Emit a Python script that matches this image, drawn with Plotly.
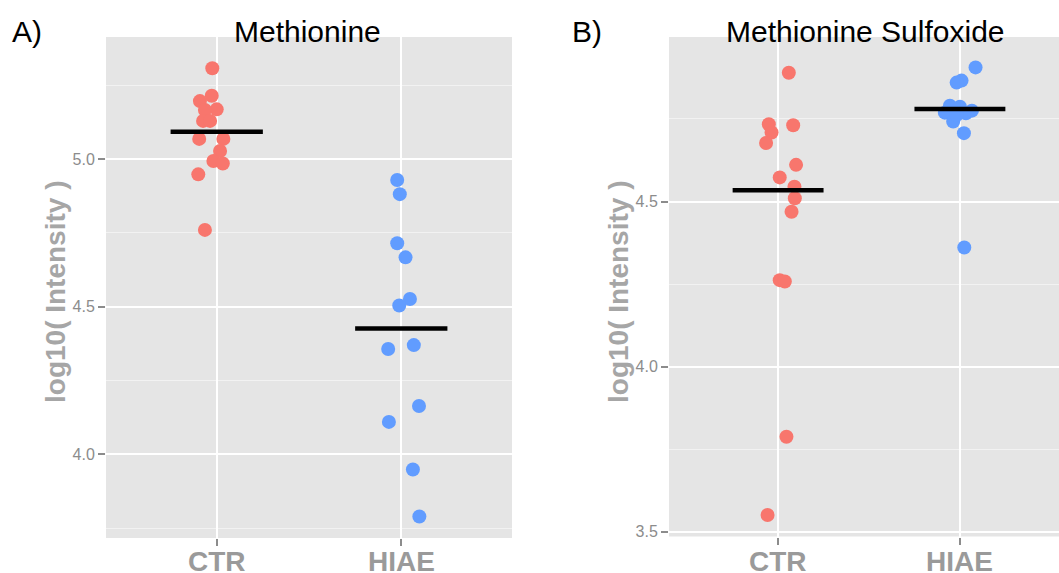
import plotly.graph_objects as go

W, H = 1059, 573

groups = ["CTR", "HIAE"]
colors = {"CTR": "#F8766D", "HIAE": "#619CFF"}

# Panel A: Methionine (log10 intensity)
met_ctr = [5.307, 5.214, 5.196, 5.168, 5.166, 5.129, 5.129, 5.068, 5.068, 5.027, 4.993, 4.985, 4.948, 4.760]
met_ctr_jit = [-0.024, -0.027, -0.091, 0.0, -0.064, -0.074, -0.036, -0.095, 0.036, 0.018, -0.018, 0.033, -0.100, -0.064]
met_hiae = [4.929, 4.881, 4.715, 4.667, 4.526, 4.504, 4.357, 4.370, 4.164, 4.110, 3.949, 3.790]
met_hiae_jit = [-0.022, -0.008, -0.022, 0.023, 0.047, -0.011, -0.071, 0.068, 0.096, -0.067, 0.063, 0.098]
met_center = [5.092, 4.426]

# Panel B: Methionine Sulfoxide (log10 intensity)
mso_ctr = [4.890, 4.734, 4.709, 4.731, 4.677, 4.611, 4.573, 4.545, 4.510, 4.469, 4.262, 4.258, 3.788, 3.551]
mso_ctr_jit = [0.059, -0.051, -0.036, 0.083, -0.066, 0.099, 0.009, 0.090, 0.092, 0.074, 0.009, 0.037, 0.046, -0.058]
mso_hiae = [4.906, 4.866, 4.860, 4.790, 4.787, 4.769, 4.767, 4.742, 4.762, 4.775, 4.707, 4.361]
mso_hiae_jit = [0.086, 0.009, -0.018, -0.055, 0.0, -0.083, 0.033, -0.037, -0.018, 0.066, 0.022, 0.024]
mso_center = [4.534, 4.780]

fig = go.Figure()

def add_panel(xa, ya, ctr, ctr_j, hiae, hiae_j, centers):
    for gi, (vals, jit) in enumerate([(ctr, ctr_j), (hiae, hiae_j)]):
        g = groups[gi]
        fig.add_trace(go.Scatter(
            x=[gi + 1 + j for j in jit], y=vals, mode="markers",
            marker=dict(color=colors[g], size=14, line=dict(width=0)),
            xaxis=xa, yaxis=ya, showlegend=False, hoverinfo="y"))
    for gi, c in enumerate(centers):
        fig.add_trace(go.Scatter(
            x=[gi + 1 - 0.25, gi + 1 + 0.25], y=[c, c], mode="lines",
            line=dict(color="black", width=4.5),
            xaxis=xa, yaxis=ya, showlegend=False, hoverinfo="skip"))

add_panel("x", "y", met_ctr, met_ctr_jit, met_hiae, met_hiae_jit, met_center)
add_panel("x2", "y2", mso_ctr, mso_ctr_jit, mso_hiae, mso_hiae_jit, mso_center)

def px_x(p):
    return p / W

def px_y(p):
    return 1 - p / H

grid_major = dict(showgrid=True, gridcolor="white", gridwidth=2, zeroline=False,
                  showline=False, ticks="outside", ticklen=7, tickwidth=1.5,
                  tickcolor="#8C8C8C", automargin=False)

xcommon = dict(grid_major, tickmode="array", tickvals=[1, 2], ticktext=groups,
               showticklabels=False)
ycommon = dict(grid_major, tickmode="linear", dtick=0.5, tick0=0, tickformat=".1f",
               tickfont=dict(family="Liberation Sans, Arial", size=16, color="#8C8C8C"),
               minor=dict(dtick=0.25, tick0=0, showgrid=True, gridcolor="#F2F2F2", gridwidth=1, ticks=""))

fig.update_layout(
    width=W, height=H, margin=dict(l=0, r=0, t=0, b=0, autoexpand=False),
    paper_bgcolor="white", plot_bgcolor="#E5E5E5",
    xaxis=dict(xcommon, domain=[px_x(106), px_x(512)], range=[0.4, 2.6], anchor="y"),
    yaxis=dict(ycommon, domain=[px_y(538), px_y(37)], range=[3.717, 5.413], anchor="x"),
    xaxis2=dict(xcommon, domain=[px_x(669), 1.0], range=[0.4, 2.545], anchor="y2"),
    yaxis2=dict(ycommon, domain=[px_y(536.5), px_y(37)], range=[3.486, 4.998], anchor="x2"),
)

ann = []
title_font = dict(family="Liberation Sans, Arial", size=30, color="black")
ann.append(dict(text="A)", x=px_x(10), y=px_y(31), xanchor="left", yanchor="middle", font=title_font))
ann.append(dict(text="Methionine", x=px_x(307), y=px_y(31), xanchor="center", yanchor="middle", font=title_font))
ann.append(dict(text="B)", x=px_x(570), y=px_y(31), xanchor="left", yanchor="middle", font=title_font))
ann.append(dict(text="Methionine Sulfoxide", x=px_x(865), y=px_y(31), xanchor="center", yanchor="middle", font=title_font))
ylab_font = dict(family="Liberation Sans, Arial", size=28, color="#A6A6A6", weight="bold")
ann.append(dict(text="log10( Intensity )", x=px_x(55), y=px_y(292), textangle=-90,
                xanchor="center", yanchor="middle", font=ylab_font))
ann.append(dict(text="log10( Intensity )", x=px_x(618), y=px_y(292), textangle=-90,
                xanchor="center", yanchor="middle", font=ylab_font))
for a in ann:
    a.update(xref="paper", yref="paper", showarrow=False)

# category labels placed on the category positions of each x axis
xlab_font = dict(family="Liberation Sans, Arial", size=28, color="#9A9A9A", weight="bold")
for xref in ["x", "x2"]:
    for gi, g in enumerate(groups):
        ann.append(dict(text=g, x=gi + 1, xref=xref, y=px_y(544), yref="paper",
                        xanchor="center", yanchor="top", showarrow=False, font=xlab_font))

fig.update_layout(annotations=ann)

fig.write_html("out.html", config={"displayModeBar": False},
               post_script="document.body.style.margin='0px';document.body.style.overflow='hidden';")
